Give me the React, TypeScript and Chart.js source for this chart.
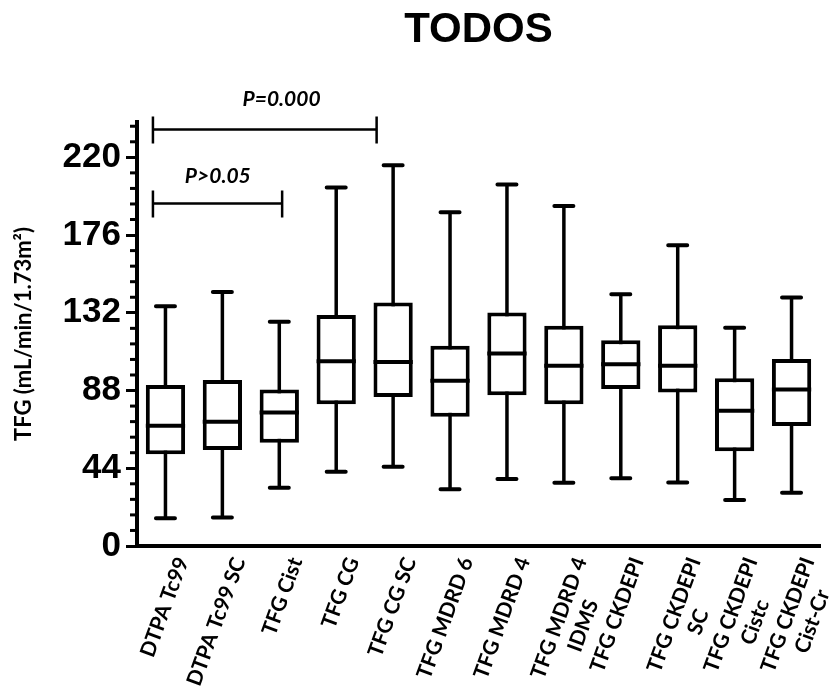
import { useEffect, useRef } from 'react';
import { Chart, registerables } from 'chart.js';

Chart.register(...registerables);

// ---- data ----
const categories: (string | string[])[] = [
  'DTPA Tc99',
  'DTPA Tc99 SC',
  'TFG Cist',
  'TFG CG',
  'TFG CG SC',
  'TFG MDRD 6',
  'TFG MDRD 4',
  ['TFG MDRD 4', 'IDMS'],
  'TFG CKDEPI',
  ['TFG CKDEPI', 'SC'],
  ['TFG CKDEPI', 'Cistc'],
  ['TFG CKDEPI', 'Cist-Cr'],
];
const whiskerMin = [15.7, 16.2, 33.0, 42.0, 44.9, 32.1, 37.9, 35.8, 38.3, 36.0, 26.0, 30.1];
const q1 = [52.0, 54.3, 58.4, 80.3, 84.4, 73.1, 85.4, 80.3, 88.8, 86.9, 53.7, 67.9];
const median = [68.0, 70.3, 75.6, 104.6, 104.2, 93.5, 109.0, 102.0, 102.9, 102.0, 76.5, 88.6];
const q3 = [91.1, 93.9, 88.6, 130.7, 137.8, 113.3, 132.2, 124.6, 116.5, 125.0, 94.9, 105.8];
const whiskerMax = [135.7, 143.8, 126.9, 202.9, 215.5, 188.9, 204.6, 192.5, 142.5, 170.2, 123.5, 140.7];

const yMin = 0;
const yMax = 240;
const yMinorStep = 8.8;
const yMajorStep = 44;

const chartTitle = 'TODOS';
const yAxisTitle = 'TFG (mL/min/1.73m²)';

// significance brackets (x in category-index units, y in data units)
const pLabels = ['P>0.05', 'P=0.000'];
const bracketFrom = [-0.22, -0.22];
const bracketTo = [2.05, 3.71];
const bracketLevel = [193.8, 235.7];
const pLabelX = [0.92, 2.04];
const pLabelY = [209.4, 252.8];

const X_FONT = { family: 'Lato', weight: 'bold' as const, size: 21 };

const isMajor = (v: number) => Math.abs(v / yMajorStep - Math.round(v / yMajorStep)) < 1e-6;

let measureCtx: CanvasRenderingContext2D | null = null;
function xLabel(i: number): string | string[] {
  const lab = categories[i];
  if (!Array.isArray(lab)) return lab;
  if (!measureCtx) measureCtx = document.createElement('canvas').getContext('2d');
  const m = measureCtx as CanvasRenderingContext2D;
  m.font = `bold ${X_FONT.size}px ${X_FONT.family}`;
  const w0 = m.measureText(lab[0]).width;
  const sp = m.measureText('\u00A0').width || 5;
  return lab.map((l, k) => {
    if (k === 0) return l;
    const w = m.measureText(l).width;
    const n = Math.max(0, Math.round((w0 - w) / 2 / sp));
    return l + '\u00A0'.repeat(n);
  });
}

const boxPlotPlugin = {
  id: 'boxPlotExtras',
  beforeDatasetsDraw(chart: any) {
    const meta = chart.getDatasetMeta(0);
    const y = chart.scales.y;
    const ctx = chart.ctx as CanvasRenderingContext2D;
    ctx.save();
    ctx.strokeStyle = '#000';
    meta.data.forEach((bar: any, i: number) => {
      const x = bar.x;
      const yTop = y.getPixelForValue(whiskerMax[i]);
      const yBot = y.getPixelForValue(whiskerMin[i]);
      ctx.lineCap = 'butt';
      ctx.lineWidth = 3.5;
      ctx.beginPath();
      ctx.moveTo(x, yTop);
      ctx.lineTo(x, yBot);
      ctx.stroke();
      ctx.lineCap = 'round';
      ctx.lineWidth = 4;
      ctx.beginPath();
      ctx.moveTo(x - 9.5, yTop);
      ctx.lineTo(x + 9.5, yTop);
      ctx.moveTo(x - 9.5, yBot);
      ctx.lineTo(x + 9.5, yBot);
      ctx.stroke();
    });
    ctx.restore();
  },
  afterDatasetsDraw(chart: any) {
    const meta = chart.getDatasetMeta(0);
    const y = chart.scales.y;
    const ctx = chart.ctx as CanvasRenderingContext2D;
    ctx.save();
    ctx.strokeStyle = '#000';
    ctx.lineWidth = 4;
    meta.data.forEach((bar: any, i: number) => {
      const ym = y.getPixelForValue(median[i]);
      ctx.beginPath();
      ctx.moveTo(bar.x - bar.width / 2, ym);
      ctx.lineTo(bar.x + bar.width / 2, ym);
      ctx.stroke();
    });
    ctx.restore();
  },
  afterDraw(chart: any) {
    const ctx = chart.ctx as CanvasRenderingContext2D;
    const x = chart.scales.x;
    const y = chart.scales.y;
    const area = chart.chartArea;
    ctx.save();
    // minor ticks
    ctx.strokeStyle = '#000';
    ctx.lineWidth = 3;
    ctx.lineCap = 'butt';
    for (let v = yMin; v <= yMax + 1e-9; v = Math.round((v + yMinorStep) * 10) / 10) {
      if (isMajor(v)) continue;
      const py = y.getPixelForValue(v);
      ctx.beginPath();
      ctx.moveTo(area.left - 7, py);
      ctx.lineTo(area.left, py);
      ctx.stroke();
    }
    // brackets
    ctx.lineWidth = 2.5;
    for (let k = 0; k < pLabels.length; k++) {
      const x0 = x.getPixelForValue(bracketFrom[k]);
      const x1 = x.getPixelForValue(bracketTo[k]);
      const py = y.getPixelForValue(bracketLevel[k]);
      ctx.beginPath();
      ctx.moveTo(x0, py);
      ctx.lineTo(x1, py);
      ctx.moveTo(x0, py - 13);
      ctx.lineTo(x0, py + 14);
      ctx.moveTo(x1, py - 13);
      ctx.lineTo(x1, py + 14);
      ctx.stroke();
      ctx.fillStyle = '#000';
      ctx.font = 'italic bold 21px Lato';
      ctx.textAlign = 'center';
      ctx.textBaseline = 'middle';
      ctx.fillText(pLabels[k], x.getPixelForValue(pLabelX[k]), y.getPixelForValue(pLabelY[k]));
    }
    // title
    ctx.font = 'bold 42px "Liberation Sans"';
    ctx.textAlign = 'center';
    ctx.textBaseline = 'middle';
    ctx.fillStyle = '#000';
    ctx.fillText(chartTitle, (area.left + area.right) / 2, 30);
    ctx.restore();
  },
};

export default function App() {
  const ref = useRef<HTMLCanvasElement | null>(null);
  useEffect(() => {
    document.body.style.margin = '0';
    document.body.style.overflow = 'hidden';
    const canvas = ref.current;
    if (!canvas) return;
    const chart = new Chart(canvas, {
      type: 'bar',
      data: {
        labels: categories.map((c) => (Array.isArray(c) ? c.join(' ') : c)),
        datasets: [
          {
            data: q1.map((v, i) => [v, q3[i]]) as any,
            backgroundColor: '#ffffff',
            borderColor: '#000000',
            borderWidth: 4,
            borderSkipped: false,
            barPercentage: 0.69,
            categoryPercentage: 1,
          },
        ],
      },
      options: {
        responsive: false,
        animation: false,
        layout: { padding: { top: 122, right: 12, left: 0, bottom: 0 } },
        plugins: {
          legend: { display: false },
          tooltip: { enabled: false },
          title: { display: false },
        },
        scales: {
          x: {
            type: 'category',
            offset: true,
            grid: { display: false, drawTicks: false },
            border: { display: true, color: '#000', width: 4 },
            ticks: {
              autoSkip: false,
              maxRotation: 70,
              minRotation: 70,
              padding: 8,
              labelOffset: 17,
              color: '#000',
              font: X_FONT,
              callback: (_v: any, i: number) => xLabel(i),
            },
            afterFit: (s: any) => {
              s.height = 145;
              s.paddingLeft = 0;
              s.paddingRight = 0;
            },
          },
          y: {
            min: yMin,
            max: yMax,
            grid: {
              drawOnChartArea: false,
              drawTicks: true,
              tickLength: 11,
              tickWidth: 3,
              tickColor: (c: any) => (c.tick && isMajor(c.tick.value) ? '#000' : 'rgba(0,0,0,0)'),
            },
            border: { display: true, color: '#000', width: 4 },
            ticks: {
              stepSize: yMinorStep,
              includeBounds: false,
              autoSkip: false,
              padding: 5,
              color: '#000',
              font: { family: 'Liberation Sans', weight: 'bold', size: 35 },
              callback: (v: any) => (isMajor(Number(v)) ? String(Math.round(Number(v))) : ''),
            },
            title: {
              display: true,
              text: yAxisTitle,
              color: '#000',
              font: { family: 'Lato', weight: 'bold', size: 22 },
              padding: { top: 11, bottom: 0 },
            },
            afterFit: (s: any) => {
              s.width = 137;
            },
          },
        },
      } as any,
      plugins: [boxPlotPlugin],
    });
    return () => chart.destroy();
  }, []);
  return (
    <div style={{ width: 832, height: 691 }}>
      <canvas ref={ref} width={832} height={691} style={{ display: 'block' }} />
    </div>
  );
}
